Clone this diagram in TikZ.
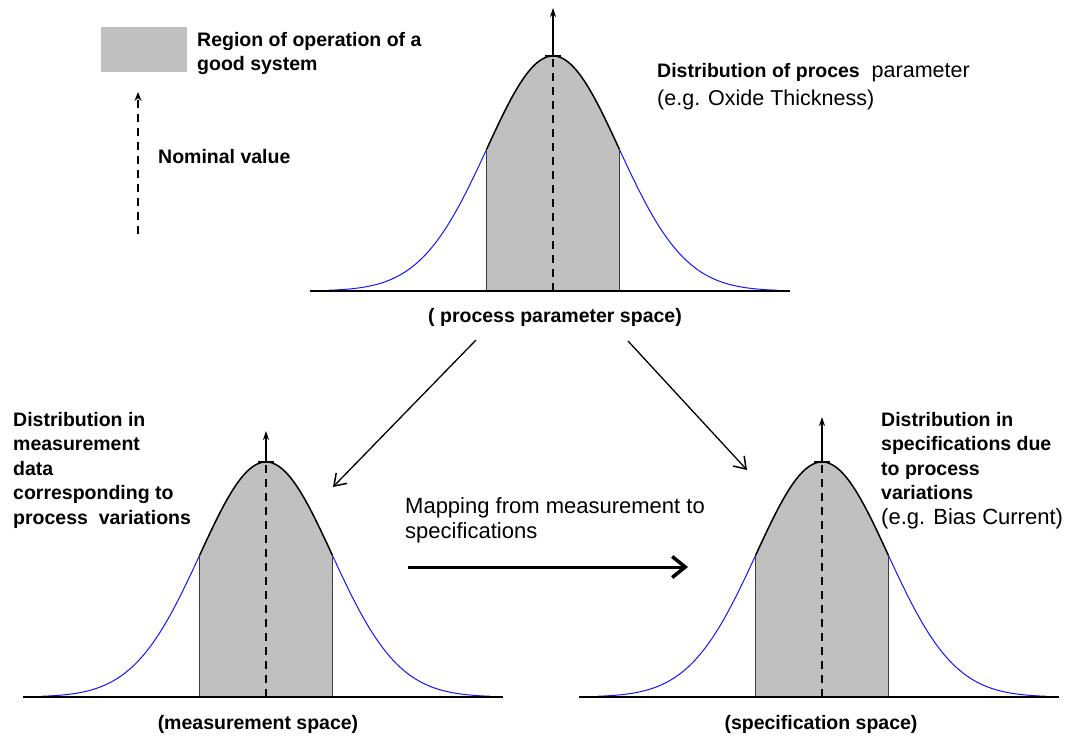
\documentclass[tikz,border=0pt]{standalone}
\usepackage{fontspec}
\setmainfont{Liberation Sans}
\usetikzlibrary{arrows.meta}

\definecolor{regiongray}{RGB}{192,192,192}
\definecolor{edgegray}{RGB}{60,60,60}
\definecolor{tailblue}{RGB}{20,20,255}

\tikzset{
  boldlabel/.style={font=\fontsize{19.5}{24.5}\selectfont\bfseries, align=left, inner sep=0pt},
  plainlabel/.style={font=\fontsize{22}{25}\selectfont, align=left, inner sep=0pt},
  tailcurve/.style={draw=tailblue, line width=1pt},
  crestcurve/.style={draw=black, line width=1.5pt},
  regionfill/.style={fill=regiongray},
  regionedge/.style={draw=edgegray, line width=1.2pt},
  centerline/.style={draw=black, line width=1.2pt, dash pattern=on 8pt off 6pt},
  peakarrow/.style={draw=black, line width=1.2pt, -{Stealth[length=9pt,width=6pt]}},
  peaktick/.style={draw=black, line width=2pt},
  axisline/.style={draw=black, line width=2pt},
  nominalarrow/.style={draw=black, line width=2.2pt, dash pattern=on 8pt off 6pt, -{Stealth[length=9pt,width=7pt]}},
  flow/.style={draw=black, line width=1.3pt, -{Straight Barb[length=11pt,width=15pt,line width=1.5pt]}},
  mapflow/.style={draw=black, line width=3pt, -{Straight Barb[length=13pt,width=21pt,line width=3.5pt]}},
}

% #1 name, #2 centre x, #3 baseline y, #4 y of the nominal arrow tip
\newcommand\drawbell[4]{%
  \begin{scope}[shift={(#2,#3)}]
    \fill[regionfill] (-66.5,0) -- plot[domain=-66.5:66.5,samples=60]
      (\x,{-235*exp(-0.5*(\x/66)*(\x/66))}) -- (66.5,0) -- cycle;
    \draw[tailcurve] plot[domain=-224:-66.5,samples=80]
      (\x,{-235*exp(-0.5*(\x/66)*(\x/66))});
    \draw[tailcurve] plot[domain=66.5:224,samples=80]
      (\x,{-235*exp(-0.5*(\x/66)*(\x/66))});
    \draw[crestcurve] plot[domain=-66.5:66.5,samples=60]
      (\x,{-235*exp(-0.5*(\x/66)*(\x/66))});
    \draw[regionedge] (-66.5,0) -- (-66.5,-141.5);
    \draw[regionedge] (66.5,0) -- (66.5,-141.5);
    \coordinate (#1-base) at (0,0);
    \coordinate (#1-peak) at (0,-235);
    \draw[centerline] (#1-base) -- (#1-peak);
    \draw[peaktick] (-8,-235) -- (8,-235);
    \draw[axisline] (-243,0) -- (237,0);
  \end{scope}
  \coordinate (#1-tip) at (#2,#4);
  \draw[peakarrow] (#1-peak) -- (#1-tip);
}

\begin{document}
\begin{tikzpicture}[x=1pt,y=-1pt]
  \useasboundingbox[fill=white] (0,0) rectangle (1075,738);

  % legend
  \node[regionfill, minimum width=86pt, minimum height=45pt, inner sep=0pt, anchor=north west]
    (legendbox) at (101,27) {};
  \node[boldlabel, anchor=north west] (legendtxt) at (197,32)
    {Region of operation of a\\good system};
  \coordinate (nomtail) at (138,234);
  \coordinate (nomtip) at (138,92);
  \draw[nominalarrow] (nomtail) -- (nomtip);
  \node[boldlabel, anchor=base west] (nomtxt) at (158,164) {Nominal value};

  % the three distributions
  \drawbell{proc}{553}{291}{8}
  \drawbell{meas}{266}{697}{431}
  \drawbell{spec}{822}{697}{417}

  % labels
  \node[plainlabel, anchor=north west, font=\fontsize{21.5}{28}\selectfont] (procdesc) at (657,63)
    {{\fontsize{19.5}{28}\selectfont\bfseries Distribution of proces}\ \ parameter\\(e.g. Oxide Thickness)};
  \node[boldlabel, anchor=base] (procspace) at (555,322) {( process parameter space)};

  \node[boldlabel, anchor=north west] (measdesc) at (13,412)
    {Distribution in\\measurement\\data\\corresponding to\\process\ \ variations};
  \node[boldlabel, anchor=base] (measspace) at (258,729) {(measurement space)};

  \node[boldlabel, anchor=north west] (specdesc) at (881,412)
    {Distribution in\\specifications due\\to process\\variations\\{\fontsize{22}{24.5}\selectfont\mdseries (e.g. Bias Current)}};
  \node[boldlabel, anchor=base] (specspace) at (821,729) {(specification space)};

  \node[plainlabel, anchor=north west] (maptxt) at (405,497)
    {Mapping from measurement to\\specifications};

  % connectors
  \coordinate (splitL) at (476,340);
  \coordinate (hitL) at (333,487);
  \coordinate (splitR) at (628,341);
  \coordinate (hitR) at (747,470);
  \draw[flow] (splitL) -- (hitL);
  \draw[flow] (splitR) -- (hitR);
  \coordinate (mapstart) at (408,567);
  \coordinate (mapend) at (688,567);
  \draw[mapflow] (mapstart) -- (mapend);
\end{tikzpicture}
\end{document}
